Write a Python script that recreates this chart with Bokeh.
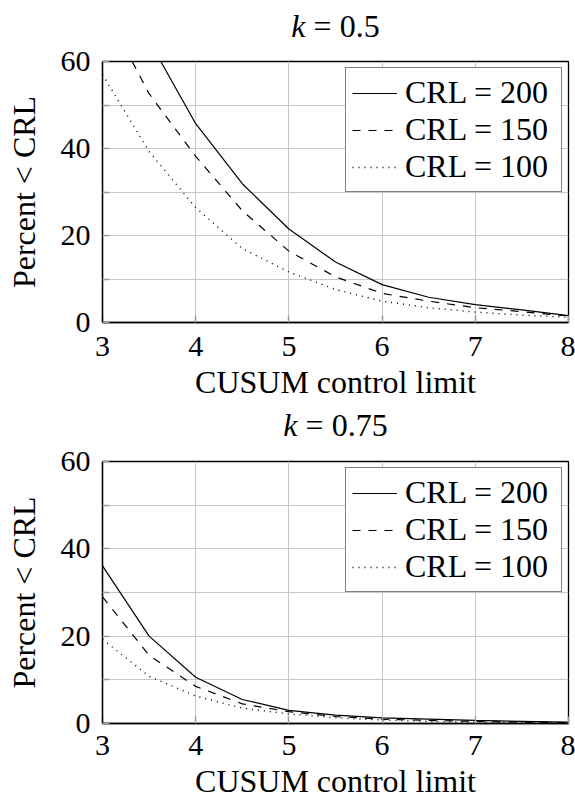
from bokeh.plotting import figure
from bokeh.models import FixedTicker, Label, Legend, LegendItem, Range1d
from bokeh.layouts import column
from bokeh.embed import file_html
from bokeh.resources import INLINE

# ---------------- data ----------------
x_vals = [3.0, 3.5, 4.0, 4.5, 5.0, 5.5, 6.0, 6.5, 7.0, 7.5, 8.0]

k050_crl200 = [92.0, 64.8, 45.7, 31.9, 21.5, 13.9, 8.7, 5.8, 4.1, 2.9, 1.6]
k050_crl150 = [73.0, 52.6, 38.2, 25.7, 16.4, 10.5, 6.7, 4.9, 3.4, 2.5, 1.5]
k050_crl100 = [57.0, 39.3, 26.4, 17.0, 11.6, 7.6, 4.9, 3.4, 2.4, 1.7, 1.2]

k075_crl200 = [36.1, 20.0, 10.6, 5.5, 3.0, 1.9, 1.3, 1.0, 0.7, 0.5, 0.3]
k075_crl150 = [29.0, 15.6, 8.5, 4.5, 2.7, 1.6, 1.0, 0.7, 0.5, 0.3, 0.2]
k075_crl100 = [19.3, 10.8, 6.3, 3.5, 2.2, 1.3, 0.8, 0.5, 0.3, 0.2, 0.15]

series_labels = ["CRL = 200", "CRL = 150", "CRL = 100"]
k_values = ["0.5", "0.75"]
x_ticks = [3, 4, 5, 6, 7, 8]
y_ticks = [0, 20, 40, 60]
y_minor_ticks = [10, 30, 50]
x_label = "CUSUM control limit"
y_label = "Percent < CRL"

# ---------------- style ----------------
FONT = "Liberation Serif"
TICK_FS = 30
LABEL_FS = 32
GRID = "#c6c6c6"
TICKC = "#9c9c9c"
W = 575
BL, BR = 102, 7
dashes = ["solid", "8 8", "1 5"]
widths = [1.2, 1.2, 1.4]


def text_w(s, fs):
    w = 0.0
    for c in s:
        if c.isdigit():
            w += 0.5
        elif c in ". ":
            w += 0.25
        elif c == "=":
            w += 0.564
        else:
            w += 0.5
    return w * fs


def make_header(kval, height, y_from_top):
    h = figure(width=W, height=height, output_backend="svg", toolbar_location=None,
               title=None,
               x_range=Range1d(x_ticks[0], x_ticks[-1]), y_range=Range1d(0, height),
               x_axis_type=None, y_axis_type=None,
               min_border_left=BL, min_border_right=BR, min_border_top=0, min_border_bottom=0,
               background_fill_color="white", border_fill_color="white")
    h.outline_line_color = None
    kw = 0.444 * LABEL_FS
    sp = 0.25 * LABEL_FS
    rest = "= " + kval
    total = kw + sp + text_w(rest, LABEL_FS)
    cx = (x_ticks[0] + x_ticks[-1]) / 2
    ty = height - y_from_top
    h.add_layout(Label(x=cx, y=ty, x_units="data", y_units="data", x_offset=-total / 2,
                       text="k", text_font=FONT, text_font_style="italic",
                       text_font_size=f"{LABEL_FS}px", text_baseline="alphabetic",
                       text_align="left", text_color="black"))
    h.add_layout(Label(x=cx, y=ty, x_units="data", y_units="data", x_offset=-total / 2 + kw + sp,
                       text=rest, text_font=FONT, text_font_size=f"{LABEL_FS}px",
                       text_baseline="alphabetic", text_align="left", text_color="black"))
    return h


def make_panel(ys, height, top, bottom, tick_standoff, label_standoff):
    p = figure(width=W, height=height, output_backend="svg", toolbar_location=None,
               x_range=Range1d(3, 8), y_range=Range1d(0, 60),
               min_border_left=BL, min_border_right=BR,
               min_border_top=top, min_border_bottom=bottom,
               background_fill_color="white", border_fill_color="white")
    p.outline_line_color = "black"
    p.outline_line_width = 1.3

    xt = FixedTicker(ticks=x_ticks, minor_ticks=[])
    yt = FixedTicker(ticks=y_ticks, minor_ticks=y_minor_ticks)
    p.xaxis.ticker = xt
    p.yaxis.ticker = yt
    p.xgrid.ticker = xt
    p.ygrid.ticker = yt
    p.xgrid.grid_line_color = GRID
    p.ygrid.grid_line_color = GRID
    p.ygrid.minor_grid_line_color = GRID
    p.xgrid.grid_line_width = 1
    p.ygrid.grid_line_width = 1

    for ax in (p.xaxis, p.yaxis):
        ax.axis_line_color = "black"
        ax.axis_line_width = 1.3
        ax.major_tick_in = 7
        ax.major_tick_out = 0
        ax.minor_tick_in = 7
        ax.minor_tick_out = 0
        ax.major_tick_line_color = TICKC
        ax.minor_tick_line_color = TICKC
        ax.major_tick_line_width = 1.5
        ax.minor_tick_line_width = 1.5
        ax.major_label_text_font = FONT
        ax.major_label_text_font_size = f"{TICK_FS}px"
        ax.major_label_text_color = "black"
        ax.axis_label_text_font = FONT
        ax.axis_label_text_font_size = f"{LABEL_FS}px"
        ax.axis_label_text_font_style = "normal"
        ax.axis_label_text_color = "black"

    p.xaxis.axis_label = x_label
    p.yaxis.axis_label = y_label
    p.xaxis.major_label_standoff = tick_standoff
    p.xaxis.axis_label_standoff = label_standoff
    p.yaxis.major_label_standoff = 12
    p.yaxis.axis_label_standoff = 16

    items = []
    for lab, y, d, lw in zip(series_labels, ys, dashes, widths):
        r = p.line(x_vals, y, line_color="black", line_width=lw, line_dash=d)
        items.append(LegendItem(label=lab, renderers=[r]))

    legend = Legend(items=items, location="top_right",
                    label_text_font=FONT, label_text_font_size=f"{LABEL_FS}px",
                    label_text_color="black",
                    border_line_color="black", border_line_width=1.2,
                    background_fill_color="white", background_fill_alpha=1.0,
                    glyph_width=45, glyph_height=28, label_height=28, label_width=150,
                    label_standoff=8, padding=6, spacing=0, margin=6)
    p.add_layout(legend)
    return p


h1 = make_header(k_values[0], 42, 25)
p1 = make_panel([k050_crl200, k050_crl150, k050_crl100], 363, 19, 83, 14, 5)
h2 = make_header(k_values[1], 39, 19.5)
p2 = make_panel([k075_crl200, k075_crl150, k075_crl100], 359, 17, 80, 12, 5)

layout = column(h1, p1, h2, p2, spacing=0)
open("out.html", "w").write(file_html(layout, INLINE))
